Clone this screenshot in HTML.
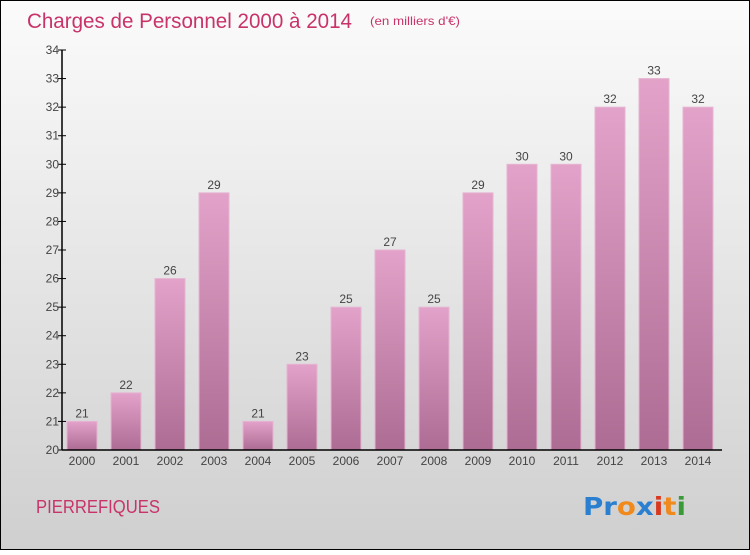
<!DOCTYPE html>
<html><head><meta charset="utf-8"><style>
html,body{margin:0;padding:0;}
body{width:750px;height:550px;overflow:hidden;font-family:"Liberation Sans",sans-serif;}
</style></head><body>
<svg id="chart" width="750" height="550" xmlns="http://www.w3.org/2000/svg">
<defs>
<linearGradient id="bg" x1="0" y1="0" x2="0" y2="1"><stop offset="0" stop-color="#fbfbfb"/><stop offset="1" stop-color="#cfcfcf"/></linearGradient>
<linearGradient id="barg" x1="0" y1="0" x2="0" y2="1"><stop offset="0" stop-color="#e2a2c9"/><stop offset="1" stop-color="#ac6c93"/></linearGradient>
</defs>
<rect x="0.5" y="0.5" width="749" height="549" fill="url(#bg)" stroke="#000"/>
<text x="27" y="28" font-size="21" fill="#c8336a" textLength="325" lengthAdjust="spacingAndGlyphs">Charges de Personnel 2000 à 2014</text>
<text x="370" y="25" font-size="12" fill="#c8336a" textLength="90" lengthAdjust="spacingAndGlyphs">(en milliers d'€)</text>
<text x="36" y="513" font-size="18" fill="#c8336a" textLength="124" lengthAdjust="spacingAndGlyphs">PIERREFIQUES</text>
<text x="583" y="515" font-size="25" font-weight="bold" font-family="'DejaVu Sans',sans-serif" textLength="103" lengthAdjust="spacingAndGlyphs"><tspan fill="#2a7fd0">Pr</tspan><tspan fill="#f08a1c">o</tspan><tspan fill="#2a7fd0">x</tspan><tspan fill="#d83a1f">i</tspan><tspan fill="#f08a1c">t</tspan><tspan fill="#3a9a3a">i</tspan></text>
<g id="plot"></g>
</svg>
<script>
const categories=["2000","2001","2002","2003","2004","2005","2006","2007","2008","2009","2010","2011","2012","2013","2014"];
const values=[21,22,26,29,21,23,25,27,25,29,30,30,32,33,32];
const yTicks=[20,21,22,23,24,25,26,27,28,29,30,31,32,33,34];
const X0=62,X1=722,Y0=450,Y1=50,YMIN=20,YMAX=34;
const step=(X1-X0)/categories.length;
function x(i){return X0+i*step;}
function y(v){return Y0-(v-YMIN)/(YMAX-YMIN)*(Y0-Y1);}
const ns="http://www.w3.org/2000/svg";
const g=document.getElementById('plot');
function mk(t,a,txt){const e=document.createElementNS(ns,t);for(const k in a)e.setAttribute(k,a[k]);if(txt!==undefined)e.textContent=txt;g.appendChild(e);return e;}
values.forEach((v,i)=>{
 const r=mk('rect',{x:x(i)+5,y:y(v),width:step-14,height:Y0-y(v),fill:'url(#barg)',stroke:'#e6b4d2','stroke-width':1});
 
 
 const t=mk('text',{x:x(i)+5+(step-14)/2,y:y(v)-4,'font-size':12,fill:'#444','text-anchor':'middle'},String(v));
 
 
 const c=mk('text',{x:x(i)+5+(step-14)/2,y:Y0+15,'font-size':12,fill:'#444','text-anchor':'middle'},categories[i]);
 
 
});
yTicks.forEach(v=>{
 const l=mk('line',{x1:X0-4,x2:X0+4,y1:y(v),y2:y(v),stroke:'#000'});
 
 
 const t=mk('text',{x:X0-3,y:y(v)+4,'font-size':12,fill:'#444','text-anchor':'end'},String(v));
 
 
});
const ya=mk('line',{x1:X0,x2:X0,y1:Y1,y2:Y0,stroke:'#000','stroke-width':1.5});


const xa=mk('line',{x1:X0,x2:X1,y1:Y0,y2:Y0,stroke:'#000','stroke-width':1.5});


</script>
</body></html>
